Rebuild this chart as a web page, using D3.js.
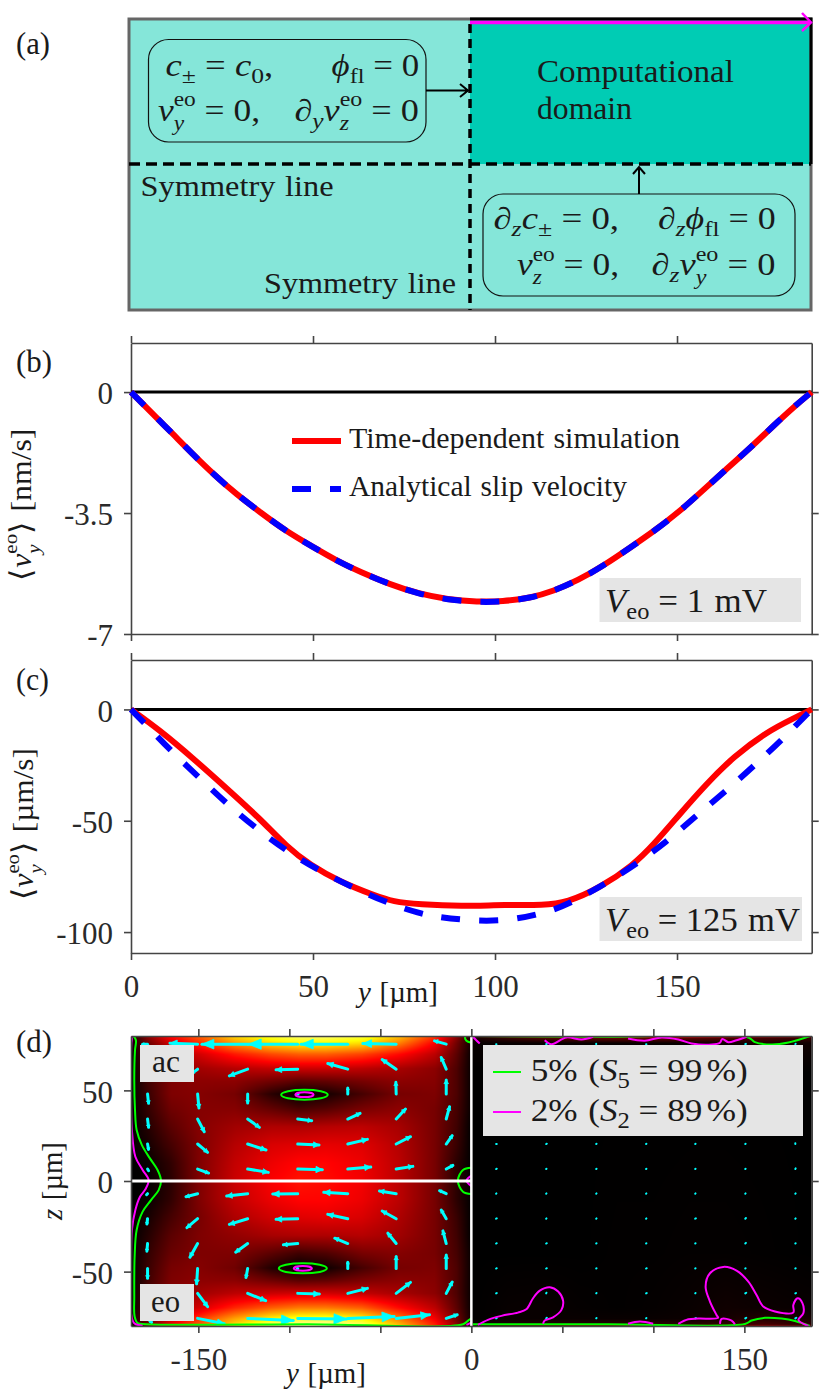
<!DOCTYPE html>
<html>
<head>
<meta charset="utf-8">
<script src="https://cdn.jsdelivr.net/npm/d3@7"></script>
<style>
body { margin: 0; background: white; }
svg { display: block; font-family: "Liberation Serif", serif; }
.tick text { fill: #2a2a2a; font-family: "Liberation Serif", serif; }
</style>
</head>
<body>
<svg id="fig" width="832" height="1400"></svg>
<script>
// panel (b), V_eo = 1 mV, [nm/s]
var bY = [0, 5.5, 11.4, 17, 23, 29, 35.4, 42.5, 50, 56.5, 63.1, 71, 79.1, 87, 95.2, 102, 109.7, 116, 122.8, 130, 137.4, 144, 150.5, 156, 162.2, 170.9, 176.5, 182.6, 187];
var bSim = [0, -0.58, -1.2, -1.8, -2.41, -2.96, -3.47, -4.02, -4.48, -4.88, -5.21, -5.56, -5.84, -6.0, -6.07, -6.06, -5.96, -5.76, -5.45, -5.01, -4.48, -4.0, -3.47, -2.95, -2.36, -1.54, -0.97, -0.38, 0];
var bSlip = [0, -0.58, -1.2, -1.8, -2.41, -2.96, -3.47, -4.02, -4.48, -4.88, -5.21, -5.56, -5.84, -6.01, -6.08, -6.07, -5.96, -5.76, -5.45, -5.01, -4.48, -4.0, -3.47, -2.95, -2.36, -1.54, -0.97, -0.38, 0];

// panel (c), V_eo = 125 mV, [um/s]
var cSimY = [0, 7.9, 17.1, 26.3, 35.4, 42.8, 49.2, 57.4, 66.7, 72, 79.4, 90.4, 103.2, 113.3, 119.7, 128.9, 138, 143.5, 150.9, 158.2, 165.5, 174.7, 182, 187];
var cSim = [0, -9.3, -22, -35.5, -49, -61.7, -69.9, -77.4, -83.4, -86.4, -87.6, -88.5, -87.7, -88, -86.8, -80.1, -69.9, -60.9, -46.7, -33.2, -21.3, -10, -4, 0];
var cSlipY = [0, 3.8, 11.2, 19, 26.7, 35, 43.7, 52.8, 62.4, 72, 79.4, 82.6, 93, 104, 114.6, 119.7, 128.9, 138, 147.2, 154.9, 163.2, 171.4, 179.2, 187];
var cSlip = [0, -6.3, -19, -31, -43, -54.2, -64.7, -73.4, -81.1, -87.9, -91.6, -92.8, -95, -95, -90.9, -87.8, -79.7, -70.4, -59.4, -48.2, -37, -25, -13, 0];

var bTicks = [0, -3.5, -7];
var cTicks = [0, -50, -100];
var xTicks = [0, 50, 100, 150];
var dXTicks = [-150, -100, -50, 0, 50, 100, 150];
var dXLabelled = [-150, 0, 150];
var dZTicks = [50, 0, -50];

// panel (d) colour field (0 black, .365 red, .73 yellow, 1 white)
var heatY = [-187, -178, -165, -150, -130, -110, -95, -80, -60, -40, -20, -8, 0];
var heatZ = [80, 76, 70, 62, 55, 48, 40, 30, 20, 10, 0, -10, -20, -30, -40, -48, -55, -62, -70, -76, -80];
var heatLeft = [
  [.02, .2, .38, .5, .68, .78, .85, .85, .8, .65, .44, .2, .03],
  [.01, .15, .3, .42, .58, .68, .72, .72, .68, .55, .36, .16, .02],
  [0, .12, .24, .3, .4, .47, .5, .5, .46, .38, .27, .13, .01],
  [0, .1, .2, .23, .26, .28, .29, .29, .27, .24, .2, .11, .01],
  [0, .09, .18, .2, .2, .16, .13, .14, .17, .2, .19, .11, .01],
  [0, .08, .18, .19, .17, .06, 0, .03, .1, .17, .18, .11, .01],
  [0, .07, .16, .19, .19, .14, .1, .12, .17, .2, .17, .1, .01],
  [0, .05, .13, .19, .23, .25, .25, .26, .27, .24, .17, .09, 0],
  [0, .03, .1, .18, .26, .31, .32, .33, .32, .26, .17, .08, 0],
  [0, .01, .07, .18, .28, .34, .37, .37, .34, .27, .17, .06, 0],
  [0, 0, .06, .18, .29, .36, .39, .38, .35, .27, .17, .06, 0],
  [0, .01, .07, .18, .28, .34, .37, .37, .34, .27, .17, .06, 0],
  [0, .03, .1, .17, .25, .3, .32, .33, .31, .25, .17, .08, 0],
  [0, .05, .13, .18, .21, .24, .25, .25, .26, .23, .17, .09, 0],
  [0, .07, .15, .18, .18, .13, .09, .11, .17, .19, .17, .1, .01],
  [0, .08, .17, .19, .16, .05, 0, .02, .1, .17, .18, .11, .01],
  [0, .09, .18, .2, .2, .16, .13, .14, .18, .2, .19, .11, .01],
  [0, .1, .2, .23, .27, .29, .3, .3, .28, .24, .2, .11, .01],
  [0, .12, .24, .3, .42, .5, .54, .54, .5, .38, .27, .13, .01],
  [.01, .14, .3, .44, .6, .72, .77, .78, .72, .55, .35, .16, .02],
  [.02, .15, .35, .5, .7, .85, .9, .92, .85, .65, .42, .2, .03]
];
var heatRightY = [0, 20, 40, 60, 80, 100, 120, 140, 160, 187];
var heatRightZ = [80, 79, 76, 60, -40, -70, -76, -79, -80];
var heatRight = [
  [.1, .3, .45, .55, .6, .6, .55, .45, .38, .3],
  [.03, .08, .12, .14, .15, .15, .14, .12, .1, .08],
  [.01, .01, .01, .01, .01, .01, .01, .02, .04, .02],
  [0, 0, 0, 0, 0, 0, 0, 0, 0, 0],
  [0, 0, 0, 0, .003, .003, .005, .005, .003, 0],
  [0, .01, .012, .006, .003, .006, .012, .022, .016, .01],
  [0, .01, .012, .012, .012, .012, .016, .03, .05, .03],
  [.02, .04, .05, .05, .06, .06, .06, .07, .1, .06],
  [.05, .12, .15, .2, .2, .2, .2, .2, .2, .15]
];

// quiver grid and arrow components (same units as arrowPerUnit below)
var quiverY = [-177.9, -150.4, -122.9, -95.4, -67.9, -41.3, -13.8];
var quiverRightY = [13.6, 41.1, 68.6, 96, 123, 150.5, 178];
var quiverZ = [75.5, 61.7, 48, 34.2, 20.4, 6.6, -7, -20.8, -34.5, -48.3, -62, -75.8];
var quiverU = [
  [-15, -83, -137, -148, -140, -100, -35],
  [-5, -15, -55, -65, -60, -42, -15],
  [3, 4, 0, 1, 0, -1, 0],
  [3, 20, 35, 42, 37, 28, 10],
  [3, 30, 55, 64, 59, 43, 18],
  [3, 33, 62, 74, 69, 50, 20],
  [-3, -35, -63, -75, -72, -50, -20],
  [-2, -32, -55, -65, -60, -42, -15],
  [-2, -23, -36, -43, -39, -25, -10],
  [0, -3, -5, -1, 0, 0, 0],
  [3, 30, 54, 65, 59, 43, 18],
  [12, 80, 137, 147, 139, 100, 33]
];
var quiverV = [
  [0, 3, 0, 0, 0, 2, 10],
  [-5, -11, -20, -2, 17, 29, 35],
  [-28, -42, -27, 0, 18, 35, 42],
  [-25, -38, -25, -5, 17, 30, 37],
  [-16, -25, -18, -3, 14, 22, 25],
  [-5, -12, -10, -2, 6, 8, 11],
  [-3, -9, -7, -1, 4, 8, 9],
  [-16, -27, -17, -2, 13, 23, 26],
  [-23, -41, -26, -4, 16, 31, 38],
  [-29, -46, -27, 0, 19, 36, 41],
  [-5, -40, -22, -2, 15, 33, 34],
  [-12, -16, -6, -2, 6, 11, 11]
];
// right half: almost no flow, the arrows shrink to dots
var quiverRightU = [
  [1, 2, 0, 1, 1, 2, 1], [1, 1, 1, 1, 1, 1, 1], [1, 1, 1, 1, 1, 1, 1], [1, 1, 1, 1, 1, 1, 1],
  [2, 2, 1, 1, 1, 1, 0], [2, 1, 1, 1, 1, 1, 1], [1, 1, 1, 1, 1, 1, 1], [2, 1, 1, 1, 2, 2, 1],
  [2, 2, 1, 1, 1, 2, 1], [2, 2, 1, 2, 1, 1, 1], [2, 1, 1, 2, 1, 3, 2], [2, 2, 1, 1, 2, 3, 3]
];
var quiverRightV = [
  [0, 1, 1, 0, 0, 1, 1], [1, 1, 1, 1, 1, 1, 1], [1, 1, 1, 1, 1, 1, 1], [1, 1, 1, 1, 1, 1, 1],
  [0, 1, 1, 1, 1, 1, 2], [1, 1, 1, 1, 1, 1, 2], [1, 1, 1, 1, 1, 1, 1], [1, 1, 1, 1, 1, 2, 1],
  [1, 1, 1, 1, 1, 2, 1], [1, 1, 1, 1, 1, 1, 1], [1, 2, 1, 1, 1, 2, 1], [1, 2, 1, 1, 1, 2, 2]
];
var arrowPerUnit = 1 / 3;

// contour lines in [y, z], um
var greenLines = [
  [[-185.7, 80.1], [-184.3, 77.7], [-184.8, 72.2], [-185.2, 55.7], [-184.8, 39.1], [-183.9, 28.1], [-181, 19.8], [-176.6, 12.5], [-172.4, 6.1], [-170.5, 0.2], [-171.8, -5], [-176, -10.5], [-180.6, -16.9], [-183.9, -27], [-185, -41.7], [-185.2, -63.8], [-185, -74.8], [-183.4, -78.4], [-178.8, -79], [-90, -79], [-4.6, -79], [-1.8, -77], [0, -75.7]],
  [[0, 7.3], [-4.6, 6.1], [-7.4, 0.2], [-4.6, -5.9], [0, -7.2]],
  [[0, 76.3], [-2.7, 77.4], [-3.5, 79.2], [-2.4, 80.5]],
  [[0.9, -79], [75, -79], [150.3, -78.9], [154, -77], [161.3, -75.5], [170.5, -75.9], [177.8, -77.2], [186, -80]],
  [[0.3, 80], [75, 79.6], [152.2, 79.2], [155.8, 76.6], [165, 75.3], [174.2, 76.4], [186.1, 80]]
];
var magentaLines = [
  [[-187.4, 80.1], [-186.5, 78.6], [-186.8, 75.9], [-187, 46.5], [-186.5, 28.1], [-184.6, 13.4], [-180.6, 6.1], [-177.3, 0.5], [-179.1, -4.6], [-182, -8.6], [-184.6, -16], [-186.5, -27], [-187, -45.4], [-187, -72.9], [-185.2, -78.5], [-180.6, -79.8]],
  [[0, 3], [-2.7, 0.2], [0, -2.8]],
  [[-2.7, -79.4], [0, -78.1]],
  [[3.6, -79.4], [9.1, -76.6], [16.5, -74.4], [25.6, -72.6], [30.2, -70.8], [33.9, -64.7], [37.6, -60.5], [43.1, -58.6], [47.7, -61], [50.4, -66], [49.5, -71.1], [44.9, -75.2], [40.3, -77], [39.4, -78.8]],
  [[86.1, -78.8], [92.6, -77.5], [99.9, -78.8]],
  [[113.7, -78.8], [119.2, -76.3], [124.7, -75.9], [135.6, -75.5], [134.7, -73.9], [131.1, -66.5], [128.7, -58.3], [131.1, -50.9], [138.4, -47.4], [145.7, -49.4], [152.2, -55.5], [156.7, -62.9], [160.4, -69.3], [166.8, -72], [176.9, -72.6], [176.9, -68.4], [179.3, -64.7], [181.9, -67.4], [182.4, -73], [179.7, -76.6], [185.2, -80]],
  [[136.6, -78.8], [137.5, -76.1], [143, -77], [144.8, -79]],
  [[0.9, 79.6], [2.7, 77.7], [4.6, 75.9]],
  [[40.3, 77.7], [44, 75.5], [52.2, 79.2], [60.5, 78.1], [66.9, 79.6]],
  [[86.1, 78.6], [95.3, 77.4], [104.5, 79.2], [113.7, 78.1], [121, 75.9], [132, 75.3], [136.6, 76.3], [137.9, 78.3], [141.2, 76.6], [145.7, 77.7], [151.2, 79.6]]
];
// closed contours round the two dark spots: centre y, centre z, half width, half height
var greenRings = [[-91.7, 47.6, 12.8, 2.76], [-92.6, -48.2, 13.2, 2.76]];
var magentaRings = [[-91.7, 47.6, 5, 1.3], [-92.6, -48.2, 5, 1.3]];

var svg = d3.select("#fig");
var fontAxis = 31;

// lays out a formula as tspans: [text, kind] where kind is n, i, sub, isub, sup or stack ([sup, sub]),
// a plain number is a gap in em. The whole thing is stretched to the wanted width.
function formula(x, y, parts, size, width, rotate) {
  var g = svg.append("g");
  var t = g.append("text").style("font-size", size + "px").attr("fill", "#1a1a1a");
  var cur = 0;
  function put(str, dx, dy, fs, italic) {
    var s = t.append("tspan").attr("x", dx).attr("y", dy)
      .style("font-size", fs + "px")
      .style("font-style", italic ? "italic" : "normal")
      .text(str);
    return s.node().getComputedTextLength();
  }
  parts.forEach(function(p) {
    if (typeof p === "number") { cur += p * size; return; }
    var k = p[1] || "n";
    if (k === "n") cur += put(p[0], cur, 0, size, false);
    if (k === "i") cur += put(p[0], cur, 0, size, true);
    if (k === "sub") cur += put(p[0], cur, size * .22, size * .7, false);
    if (k === "isub") cur += put(p[0], cur, size * .22, size * .7, true);
    if (k === "sup") cur += put(p[0], cur, -size * .4, size * .7, false);
    if (k === "stack") {
      var a = put(p[0][0], cur, -size * .46, size * .66, false);
      var b = put(p[0][1], cur, size * .3, size * .66, true);
      cur += Math.max(a, b);
    }
  });
  var sx = width ? width / cur : 1;
  g.attr("transform", "translate(" + x + "," + y + ")" + (rotate ? " rotate(" + rotate + ")" : "") + " scale(" + sx + ",1)");
  return g;
}

// ---------- panel (a): the sketch of the domain ----------
var a = svg.append("g");
a.append("rect").attr("x", 129).attr("y", 19).attr("width", 682).attr("height", 291).attr("fill", "#85e6d9");
a.append("rect").attr("x", 470).attr("y", 19).attr("width", 341).attr("height", 145).attr("fill", "#00ccb4");
a.append("rect").attr("x", 129).attr("y", 19).attr("width", 682).attr("height", 291)
  .attr("fill", "none").attr("stroke", "#666").attr("stroke-width", 3);
a.append("path").attr("d", "M470,19H811V164").attr("fill", "none").attr("stroke", "black").attr("stroke-width", 3);
a.append("path").attr("d", "M129,164H811").attr("stroke", "black").attr("stroke-width", 3.5).attr("stroke-dasharray", "11,6");
a.append("path").attr("d", "M470,24V310").attr("stroke", "black").attr("stroke-width", 3.5).attr("stroke-dasharray", "9,6");
a.append("path").attr("d", "M470,22.5H810").attr("stroke", "#ff00ff").attr("stroke-width", 3.5);
a.append("path").attr("d", "M802,13L811,22.5L802,31").attr("fill", "none").attr("stroke", "#ff00ff").attr("stroke-width", 2.5);
a.append("rect").attr("x", 148.5).attr("y", 39.5).attr("width", 277.5).attr("height", 102.5).attr("rx", 20)
  .attr("fill", "none").attr("stroke", "#111").attr("stroke-width", 1.2);
a.append("rect").attr("x", 483).attr("y", 194).attr("width", 312).attr("height", 102).attr("rx", 20)
  .attr("fill", "none").attr("stroke", "#111").attr("stroke-width", 1.2);
a.append("path").attr("d", "M426,90.5H468M460,84L468,90.5L460,97").attr("fill", "none").attr("stroke", "black").attr("stroke-width", 2);
a.append("path").attr("d", "M639,194V167M633,174L639,167L645,174").attr("fill", "none").attr("stroke", "black").attr("stroke-width", 2);

formula(165.5, 76, [["c", "i"], ["±", "sub"], .25, ["="], .25, ["c", "i"], ["0", "sub"], [","]], 31, 107.7);
formula(331.6, 76, [["ϕ", "i"], ["fl", "sub"], .25, ["="], .25, ["0"]], 31, 87.5);
formula(158, 120.7, [["v", "i"], [["eo", "y"], "stack"], .25, ["="], .25, ["0,"]], 31, 102);
formula(294.4, 120.7, [["∂"], ["y", "isub"], ["v", "i"], [["eo", "z"], "stack"], .25, ["="], .25, ["0"]], 31, 124.6);
formula(493.4, 229, [["∂"], ["z", "isub"], ["c", "i"], ["±", "sub"], .25, ["="], .25, ["0,"]], 31, 125.7);
formula(658, 229, [["∂"], ["z", "isub"], ["ϕ", "i"], ["fl", "sub"], .25, ["="], .25, ["0"]], 31, 117.8);
formula(517, 275, [["v", "i"], [["eo", "z"], "stack"], .25, ["="], .25, ["0,"]], 31, 102);
formula(651.5, 275, [["∂"], ["z", "isub"], ["v", "i"], [["eo", "y"], "stack"], .25, ["="], .25, ["0"]], 31, 124);
formula(537, 82, [["Computational"]], 31, 197);
formula(537, 119, [["domain"]], 31, 95);
formula(140.6, 196, [["Symmetry"], .3, ["line"]], 30, 193);
formula(264, 293, [["Symmetry"], .3, ["line"]], 30, 192);

// panel letters
formula(16, 54, [["(a)"]], 31, 34);
formula(16, 372, [["(b)"]], 31, 36);
formula(16, 690, [["(c)"]], 31, 33);
formula(16, 1052, [["(d)"]], 31, 36);

// ---------- line panels ----------
function ticksOnly(gen, g) {
  g.call(gen.tickSizeOuter(0));
  g.selectAll("text").remove();
  styleAxis(g);
}
function styleAxis(g) {
  g.selectAll(".domain").attr("stroke", "#444").attr("stroke-width", 1.6);
  g.selectAll(".tick line").attr("stroke", "#444").attr("stroke-width", 1.6);
}
function str(d) { return String(d); }

function linePanel(top, bottom, yDomain, yTicks, xLabels) {
  var x = d3.scaleLinear().domain([0, 187]).range([131, 811.7]);
  var y = d3.scaleLinear().domain(yDomain).range([bottom, top]);
  var p = svg.append("g");
  var left = p.append("g").attr("transform", "translate(131,0)")
    .call(d3.axisLeft(y).tickValues(yTicks).tickFormat(str).tickSize(7).tickSizeOuter(0).tickPadding(11));
  left.selectAll("text").style("font-size", fontAxis + "px").attr("dy", ".38em");
  styleAxis(left);
  ticksOnly(d3.axisRight(y).tickValues(yTicks).tickSize(7), p.append("g").attr("transform", "translate(811.7,0)"));
  ticksOnly(d3.axisTop(x).tickValues(xTicks).tickSize(7), p.append("g").attr("transform", "translate(0," + top + ")"));
  var bot = p.append("g").attr("transform", "translate(0," + bottom + ")")
    .call(d3.axisBottom(x).tickValues(xTicks).tickFormat(str).tickSize(7).tickSizeOuter(0).tickPadding(15));
  if (xLabels) bot.selectAll("text").style("font-size", fontAxis + "px");
  else bot.selectAll("text").remove();
  styleAxis(bot);
  p.append("line").attr("x1", x(0)).attr("x2", x(187)).attr("y1", y(0)).attr("y2", y(0))
    .attr("stroke", "black").attr("stroke-width", 3);
  return { g: p, x: x, y: y };
}
function drawCurve(pn, xs, ys, color, dash) {
  var line = d3.line().x(function(d) { return pn.x(d); })
    .y(function(d, i) { return pn.y(ys[i]); }).curve(d3.curveBasis);
  pn.g.append("path").attr("d", line(xs)).attr("fill", "none")
    .attr("stroke", color).attr("stroke-width", 6)
    .attr("stroke-dasharray", dash || null);
}

var pb = linePanel(343, 634, [-7, 1.42], bTicks, false);
drawCurve(pb, bY, bSim, "#ff0000");
drawCurve(pb, bY, bSlip, "#0000ff", "19,19");
// legend of panel b
svg.append("line").attr("x1", 292).attr("x2", 341).attr("y1", 441).attr("y2", 441).attr("stroke", "#ff0000").attr("stroke-width", 6);
svg.append("line").attr("x1", 292).attr("x2", 341).attr("y1", 489).attr("y2", 489).attr("stroke", "#0000ff").attr("stroke-width", 6).attr("stroke-dasharray", "19,19");
formula(349, 448, [["Time-dependent"], .3, ["simulation"]], 29, 331);
formula(349, 496, [["Analytical"], .3, ["slip"], .3, ["velocity"]], 29, 278);
svg.append("rect").attr("x", 599.5).attr("y", 578).attr("width", 201.5).attr("height", 44).attr("fill", "#e5e5e5");
formula(605, 612, [["V", "i"], ["eo", "sub"], .25, ["="], .25, ["1"], .3, ["mV"]], 33, 162);
formula(31, 580.5, [["⟨"], ["v", "i"], [["eo", "y"], "stack"], ["⟩"], .3, ["[nm/s]"]], 30, 152, -90);

var pc = linePanel(660, 953, [-109.4, 22.2], cTicks, true);
drawCurve(pc, cSimY, cSim, "#ff0000");
drawCurve(pc, cSlipY, cSlip, "#0000ff", "19,19");
svg.append("rect").attr("x", 599.5).attr("y", 897).attr("width", 202.5).attr("height", 44).attr("fill", "#e5e5e5");
formula(605, 931, [["V", "i"], ["eo", "sub"], .25, ["="], .25, ["125"], .3, ["mV"]], 33, 195);
formula(33, 900, [["⟨"], ["v", "i"], [["eo", "y"], "stack"], ["⟩"], .3, ["[µm/s]"]], 30, 152, -90);
formula(358, 1002, [["y", "i"], .3, ["[µm]"]], 30, 80);

// ---------- panel (d) ----------
var dx = d3.scaleLinear().domain([-187, 187]).range([131, 811.7]);
var dy = d3.scaleLinear().domain([-80, 80]).range([1326, 1036]);
var hot = d3.scaleLinear().domain([0, .365, .73, 1]).range(["black", "red", "yellow", "white"]).clamp(true);

// bilinear look-up in the read grid; zs runs downward
function sample(ys, zs, grid, yv, zv) {
  var i = Math.min(Math.max(d3.bisectRight(ys, yv) - 1, 0), ys.length - 2);
  var j = 0;
  while (j < zs.length - 2 && zs[j + 1] > zv) j++;
  var s = Math.max(0, Math.min(1, (yv - ys[i]) / (ys[i + 1] - ys[i])));
  var t = Math.max(0, Math.min(1, (zs[j] - zv) / (zs[j] - zs[j + 1])));
  return (grid[j][i] * (1 - s) + grid[j][i + 1] * s) * (1 - t) + (grid[j + 1][i] * (1 - s) + grid[j + 1][i + 1] * s) * t;
}
function heatImage(ys, zs, grid, y0, y1) {
  var w = Math.round(dx(y1) - dx(y0)), h = Math.round(dy(-80) - dy(80));
  var cv = document.createElement("canvas");
  cv.width = w; cv.height = h;
  var ctx = cv.getContext("2d");
  var img = ctx.createImageData(w, h);
  var yOf = d3.scaleLinear().domain([0, w]).range([y0, y1]);
  var zOf = d3.scaleLinear().domain([0, h]).range([80, -80]);
  for (var r = 0; r < h; r++) for (var c = 0; c < w; c++) {
    var col = d3.rgb(hot(sample(ys, zs, grid, yOf(c + .5), zOf(r + .5))));
    var k = 4 * (r * w + c);
    img.data[k] = col.r; img.data[k + 1] = col.g; img.data[k + 2] = col.b; img.data[k + 3] = 255;
  }
  ctx.putImageData(img, 0, 0);
  svg.append("image").attr("x", dx(y0)).attr("y", dy(80)).attr("width", dx(y1) - dx(y0)).attr("height", dy(-80) - dy(80))
    .attr("preserveAspectRatio", "none").attr("href", cv.toDataURL());
}
heatImage(heatY, heatZ, heatLeft, -187, 0);
heatImage(heatRightY, heatRightZ, heatRight, 0, 187);

// quiver
function quiver(ys, zs, us, vs, lineWidth) {
  var rows = [];
  zs.forEach(function(z, r) {
    ys.forEach(function(y, c) { rows.push({ y: y, z: z, u: us[r][c], v: vs[r][c] }); });
  });
  var q = svg.append("g").selectAll("g").data(rows).enter().append("g");
  q.append("line")
    .attr("x1", function(d) { return dx(d.y); })
    .attr("y1", function(d) { return dy(d.z); })
    .attr("x2", function(d) { return dx(d.y) + d.u * arrowPerUnit; })
    .attr("y2", function(d) { return dy(d.z) - d.v * arrowPerUnit; })
    .attr("stroke", "#00ffff").attr("stroke-width", lineWidth).attr("stroke-linecap", "round");
  q.append("path").attr("fill", "#00ffff").attr("stroke", "#00ffff").attr("stroke-width", .8)
    .attr("d", function(d) {
      var ex = d.u * arrowPerUnit, ey = -d.v * arrowPerUnit, L = Math.hypot(ex, ey);
      if (L < 3) return null;
      var hl = .26 * L, hw = .08 * L + 1.2, ux = ex / L, uy = ey / L;
      var bx = dx(d.y) + ex - ux * hl, by = dy(d.z) + ey - uy * hl;
      return "M" + (dx(d.y) + ex) + "," + (dy(d.z) + ey) +
        "L" + (bx - uy * hw) + "," + (by + ux * hw) + "L" + (bx + uy * hw) + "," + (by - ux * hw) + "Z";
    });
}
quiver(quiverY, quiverZ, quiverU, quiverV, 3);
quiver(quiverRightY, quiverZ, quiverRightU, quiverRightV, 2);

// contours
svg.append("clipPath").attr("id", "plotclip").append("rect")
  .attr("x", dx(-187)).attr("y", dy(80)).attr("width", dx(187) - dx(-187)).attr("height", dy(-80) - dy(80));
var cg = svg.append("g").attr("clip-path", "url(#plotclip)");
var contour = d3.line().x(function(d) { return dx(d[0]); }).y(function(d) { return dy(d[1]); }).curve(d3.curveCatmullRom);
function drawContours(lines, rings, color) {
  cg.selectAll(null).data(lines).enter().append("path")
    .attr("d", contour).attr("fill", "none").attr("stroke", color).attr("stroke-width", 2);
  cg.selectAll(null).data(rings).enter().append("ellipse")
    .attr("cx", function(d) { return dx(d[0]); })
    .attr("cy", function(d) { return dy(d[1]); })
    .attr("rx", function(d) { return dx(d[2]) - dx(0); })
    .attr("ry", function(d) { return dy(0) - dy(d[3]); })
    .attr("fill", "none").attr("stroke", color).attr("stroke-width", 2);
}
drawContours(greenLines, greenRings, "#00ff00");
drawContours(magentaLines, magentaRings, "#ff00ff");

// symmetry lines in white
svg.append("line").attr("x1", dx(-187)).attr("x2", dx(0)).attr("y1", dy(0)).attr("y2", dy(0)).attr("stroke", "white").attr("stroke-width", 3);
svg.append("line").attr("x1", dx(0)).attr("x2", dx(0)).attr("y1", dy(80)).attr("y2", dy(-80)).attr("stroke", "white").attr("stroke-width", 2.5);

// boxes
svg.append("rect").attr("x", 140).attr("y", 1045).attr("width", 54).attr("height", 37).attr("fill", "#e5e5e5");
formula(152, 1072, [["ac"]], 32, 28);
svg.append("rect").attr("x", 140).attr("y", 1284).attr("width", 54).attr("height", 37).attr("fill", "#e5e5e5");
formula(151, 1312, [["eo"]], 32, 29);
svg.append("rect").attr("x", 483).attr("y", 1045).attr("width", 320).attr("height", 91).attr("fill", "#e5e5e5");
svg.append("line").attr("x1", 493).attr("x2", 521).attr("y1", 1072).attr("y2", 1072).attr("stroke", "#00ff00").attr("stroke-width", 2);
svg.append("line").attr("x1", 493).attr("x2", 521).attr("y1", 1112).attr("y2", 1112).attr("stroke", "#ff00ff").attr("stroke-width", 2);
formula(530.7, 1081, [["5%"], .3, ["("], ["S", "i"], ["5", "sub"], .25, ["="], .25, ["99"], .12, ["%)"]], 32, 217);
formula(530.7, 1121, [["2%"], .3, ["("], ["S", "i"], ["2", "sub"], .25, ["="], .25, ["89"], .12, ["%)"]], 32, 217);

// axes of panel (d)
var dLeft = svg.append("g").attr("transform", "translate(131,0)")
  .call(d3.axisLeft(dy).tickValues(dZTicks).tickFormat(str).tickSize(7).tickSizeOuter(0).tickPadding(11));
dLeft.selectAll("text").style("font-size", fontAxis + "px").attr("dy", ".38em");
styleAxis(dLeft);
ticksOnly(d3.axisRight(dy).tickValues(dZTicks).tickSize(7), svg.append("g").attr("transform", "translate(811.7,0)"));
ticksOnly(d3.axisTop(dx).tickValues(dXTicks).tickSize(7), svg.append("g").attr("transform", "translate(0,1036)"));
var dBot = svg.append("g").attr("transform", "translate(0,1326)")
  .call(d3.axisBottom(dx).tickValues(dXTicks).tickSize(7).tickSizeOuter(0).tickPadding(15)
    .tickFormat(function(d) { return dXLabelled.indexOf(d) >= 0 ? str(d) : ""; }));
dBot.selectAll("text").style("font-size", fontAxis + "px");
styleAxis(dBot);
formula(286, 1383, [["y", "i"], .3, ["[µm]"]], 30, 80);
formula(62, 1220, [["z", "i"], .3, ["[µm]"]], 30, 78, -90);
</script>
</body>
</html>
